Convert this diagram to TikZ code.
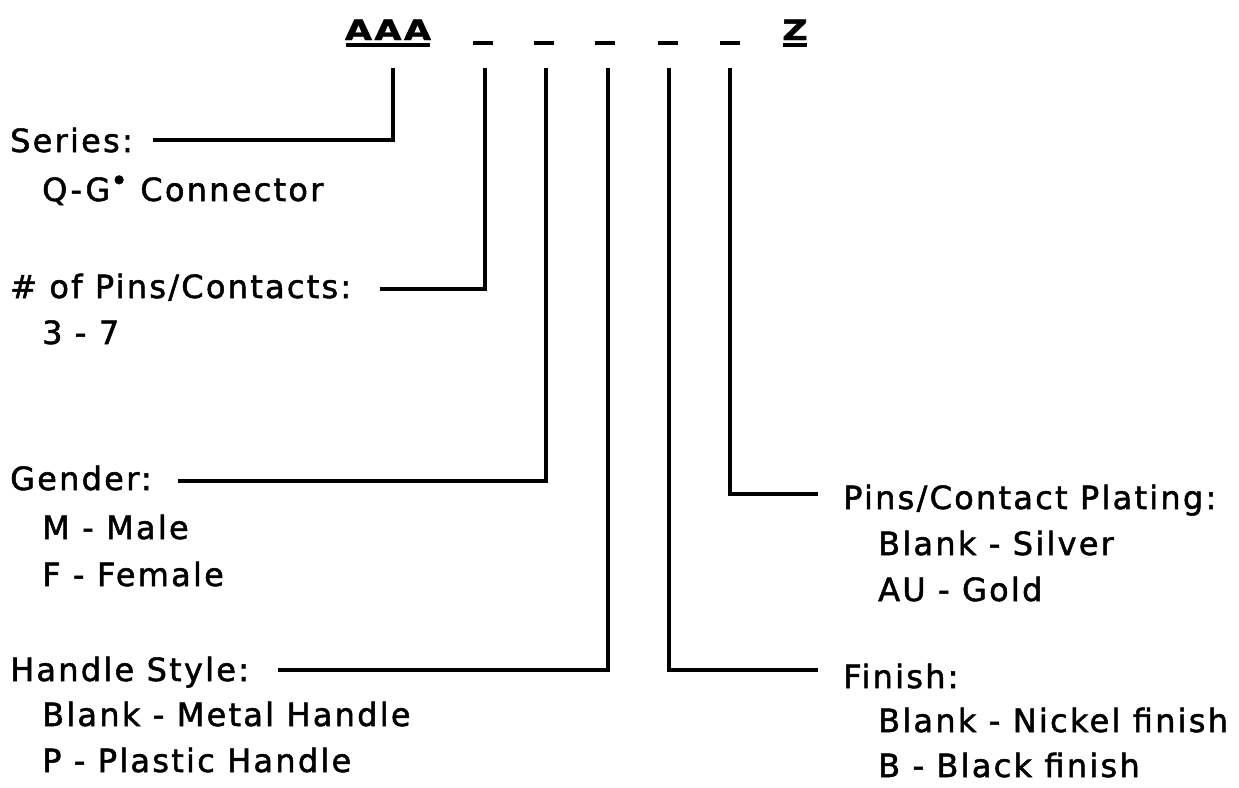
\documentclass[tikz,border=0pt]{standalone}
\usepackage{fontspec}
\setmainfont{DejaVu Sans}[LetterSpace=7,FakeBold=1.6]
\begin{document}
\begin{tikzpicture}[x=1pt,y=-1pt,
  lbl/.style={anchor=west,inner sep=0pt,text height=24pt,text depth=0pt,font=\fontsize{32}{40}\selectfont},
  hdr/.style={inner sep=0pt,anchor=base,font=\bfseries\fontsize{28}{34}\selectfont},
  conn/.style={line width=3.2pt},
  slot/.style={line width=3.5pt}]
\useasboundingbox (0,0) rectangle (1239,787);
% header
\node[hdr] (aaa) at (388,40) {\scalebox{1.25}[1]{AAA}};
\node[hdr] (zz) at (795,40) {\scalebox{1.25}[1]{Z}};
\draw[slot] (346,45) -- (430,45);
\draw[slot] (783,45) -- (807,45);
\foreach \x in {483,544,605,668,730} \draw[slot] (\x-10,43) -- (\x+10,43);
% top coordinates
\coordinate (t1) at (393,68);
\coordinate (t2) at (485,68);
\coordinate (t3) at (546,68);
\coordinate (t4) at (608,68);
\coordinate (t5) at (669,68);
\coordinate (t6) at (730,68);
% left labels
\node[lbl] (series) at (10,140) {Series:};
\node[lbl] (s1) at (42,189) {Q-G\raisebox{10pt}{\fontsize{30}{30}\selectfont•} Connector};
\node[lbl] (pins) at (10,286) {\# of Pins/Contacts:};
\node[lbl] (p1) at (42,332) {3 - 7};
\node[lbl] (gender) at (10,478) {Gender:};
\node[lbl] (g1) at (42,527) {M - Male};
\node[lbl] (g2) at (42,574) {F - Female};
\node[lbl] (handle) at (10,669) {Handle Style:};
\node[lbl] (h1) at (42,714) {Blank - Metal Handle};
\node[lbl] (h2) at (42,760) {P - Plastic Handle};
% right labels
\node[lbl] (plating) at (843,497) {Pins/Contact Plating:};
\node[lbl] (pl1) at (878,543) {Blank - Silver};
\node[lbl] (pl2) at (878,589) {AU - Gold};
\node[lbl] (finish) at (843,676) {Finish:};
\node[lbl] (f1) at (878,720) {Blank - Nickel finish};
\node[lbl] (f2) at (878,765) {B - Black finish};
% connectors
\draw[conn] (t1) |- (153,140) coordinate (e1);
\draw[conn] (t2) |- (380,289) coordinate (e2);
\draw[conn] (t3) |- (178,481) coordinate (e3);
\draw[conn] (t4) |- (278,670) coordinate (e4);
\draw[conn] (t5) |- ([xshift=-25pt,yshift=6pt]finish.west);
\draw[conn] (t6) |- ([xshift=-25pt,yshift=3pt]plating.west);
\end{tikzpicture}
\end{document}
